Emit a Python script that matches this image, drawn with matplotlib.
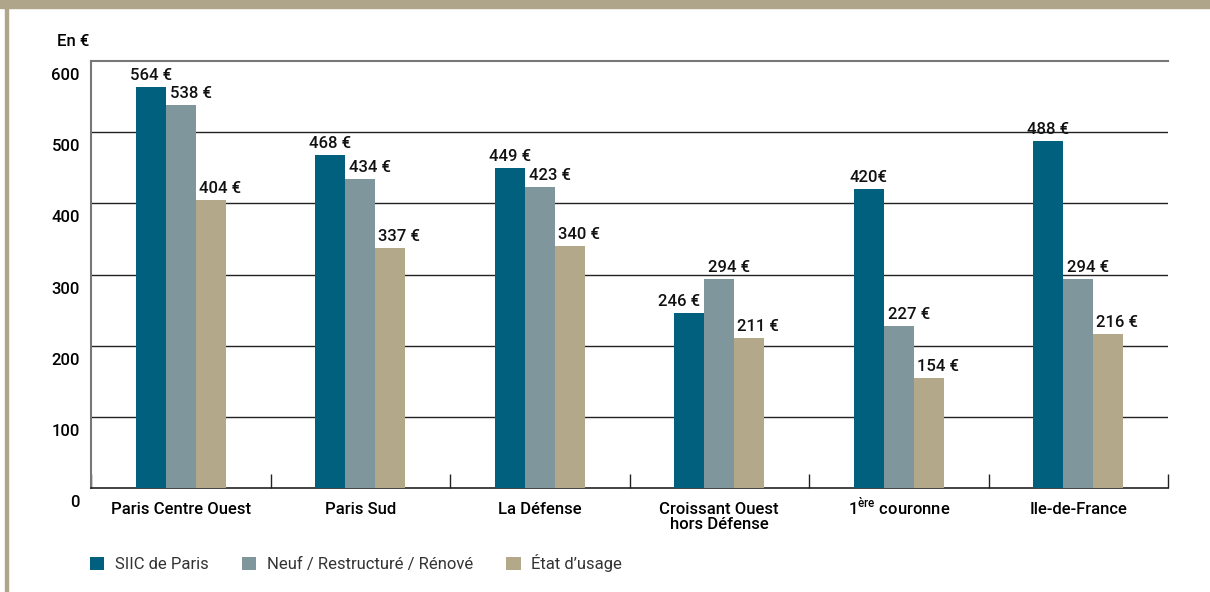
import numpy as np
import matplotlib.pyplot as plt
from matplotlib.patches import Rectangle
import matplotlib.transforms as mtransforms

# --- DATA ---
categories = ["Paris Centre Ouest", "Paris Sud", "La Défense",
              "Croissant Ouest\nhors Défense", r"1$^{\mathregular{ère}}$ couronne", "Ile-de-France"]
series_names = ["SIIC de Paris", "Neuf / Restructuré / Rénové", "État d’usage"]
siic = [564, 468, 449, 246, 420, 488]
neuf = [538, 434, 423, 294, 227, 294]
etat = [404, 337, 340, 211, 154, 216]
value_labels = [
    ["564 €", "468 €", "449 €", "246 €", "420€", "488 €"],
    ["538 €", "434 €", "423 €", "294 €", "227 €", "294 €"],
    ["404 €", "337 €", "340 €", "211 €", "154 €", "216 €"],
]
yticks = [0, 100, 200, 300, 400, 500, 600]

colors = ["#02607f", "#7f979c", "#b3a98a"]
tan = "#afa58a"

plt.rcParams['font.family'] = ['Roboto', 'DejaVu Sans']
plt.rcParams['mathtext.fontset'] = 'custom'
plt.rcParams['mathtext.rm'] = 'Roboto:medium'
FW = 'medium'
FS = 12

fig = plt.figure(figsize=(12.1, 5.92), dpi=100)
ax = fig.add_axes([91 / 1210, 1 - 488 / 592, (1168 - 91) / 1210, (488 - 61) / 592])

# --- FRAME DECORATION ---
fig.patches.append(Rectangle((0, 1 - 8 / 592), 1, 8 / 592, transform=fig.transFigure,
                             color=tan, zorder=0))
fig.patches.append(Rectangle((5 / 1210, 0), 3 / 1210, 1, transform=fig.transFigure,
                             color=tan, zorder=0))

# --- BARS ---
x = np.arange(len(categories))
w = 30 / 179.5
all_vals = [siic, neuf, etat]
for i, vals in enumerate(all_vals):
    pos = x + (i - 1) * w
    ax.bar(pos, vals, width=w, color=colors[i], label=series_names[i], zorder=3)
    dx = [0, 10, 9][i]
    for j, v in enumerate(vals):
        off = mtransforms.offset_copy(ax.transData, fig=fig, x=dx if not (i == 0 and j == 3) else -10,
                                      y=4, units='dots')
        ax.text(pos[j], v, value_labels[i][j], transform=off, ha='center', va='bottom',
                fontsize=FS, fontweight=FW, color='#111111', zorder=4)

# --- AXES ---
ax.set_xlim(-0.5, len(categories) - 0.5)
ax.set_ylim(0, 600)
for y in yticks[1:-1]:
    ax.axhline(y, color='#222222', lw=1, zorder=1)
ax.spines['top'].set_color('#777777')
ax.spines['top'].set_linewidth(1.5)
ax.spines['left'].set_color('#777777')
ax.spines['left'].set_linewidth(1.5)
ax.spines['right'].set_visible(False)
ax.spines['bottom'].set_color('#222222')
ax.spines['bottom'].set_linewidth(1.2)

ax.set_yticks(yticks)
ax.set_yticklabels([str(t) for t in yticks], fontsize=FS, fontweight=FW)
ax.tick_params(axis='y', length=0, pad=8)
for lab in ax.get_yticklabels():
    lab.set_transform(lab.get_transform() + mtransforms.ScaledTranslation(0, -13 / 100, fig.dpi_scale_trans))

ax.set_xticks(x)
ax.set_xticklabels(categories, fontsize=FS, fontweight=FW, linespacing=1.0)
ax.tick_params(axis='x', length=0, pad=10)
# superscript pushes the "1ère" label down; lift it back to the common line
xl = ax.get_xticklabels()[4]
xl.set_transform(xl.get_transform() + mtransforms.ScaledTranslation(0, 6 / 100, fig.dpi_scale_trans))
ax.set_xticks(np.arange(len(categories) + 1) - 0.5, minor=True)
ax.tick_params(axis='x', which='minor', direction='in', length=10, color='#222222', width=1)

fig.text(57 / 1210, 1 - 42 / 592, "En €", fontsize=FS, fontweight=FW, va='center')

leg = fig.legend(loc='center left', bbox_to_anchor=(83 / 1210, 1 - 563 / 592), ncol=3, frameon=False,
                 handlelength=0.85, handleheight=0.85, handletextpad=0.65,
                 columnspacing=2.0, borderaxespad=0, prop={'size': FS, 'weight': 'normal'})
for t in leg.get_texts():
    t.set_color('#333333')

fig.savefig("out.png", dpi=100)
